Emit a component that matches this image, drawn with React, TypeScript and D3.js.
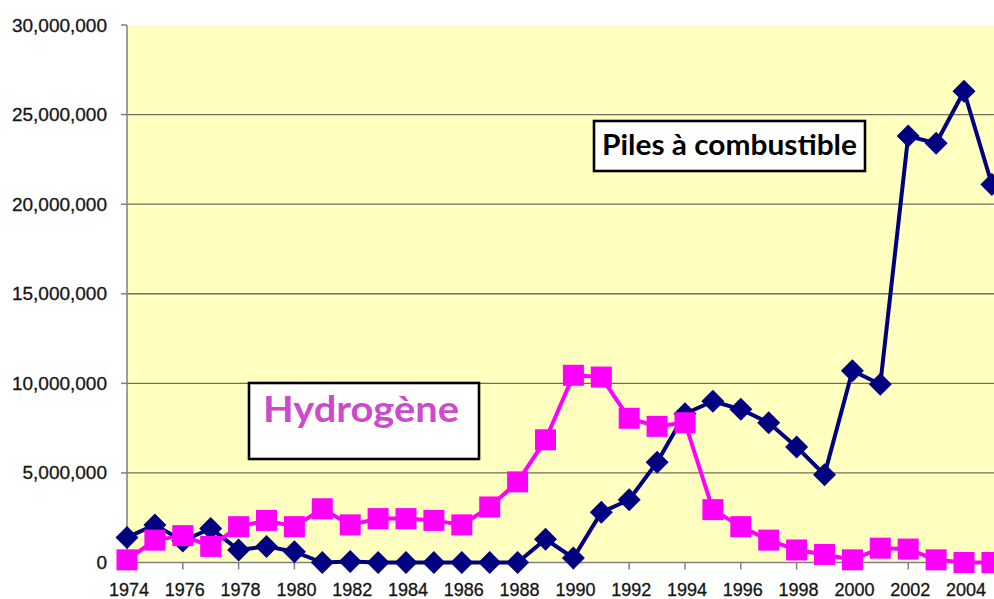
import React from "react";
import * as d3 from "d3";

const years = d3.range(1974, 2006);
const pilesValues = [
  1.4, 2.1, 1.2, 1.9, 0.7, 0.9, 0.6, 0, 0.05, 0, 0, 0, 0, 0, 0, 1.3,
  0.25, 2.8, 3.5, 5.6, 8.3, 9.0, 8.55, 7.8, 6.45, 4.9, 10.7, 9.95, 23.8, 23.4, 26.3, 21.1,
].map((v) => v * 1e6);
const hydrogeneValues = [
  0.15, 1.25, 1.5, 0.9, 2.0, 2.35, 2.0, 3.0, 2.1, 2.45, 2.45, 2.35, 2.1, 3.1, 4.5, 6.85,
  10.45, 10.35, 8.05, 7.6, 7.8, 2.95, 2.0, 1.25, 0.7, 0.45, 0.15, 0.8, 0.75, 0.15, 0, 0,
].map((v) => v * 1e6);
const yTicks = [0, 5e6, 10e6, 15e6, 20e6, 25e6, 30e6];
const xTickYears = d3.range(1974, 2006, 2);
const pilesLabel = "Piles à combustible";
const hydrogeneLabel = "Hydrogène";

export default function App() {
  const W = 994;
  const H = 599;
  const left = 127;
  const top = 25;
  const bottom = 562.5;
  const x = d3.scaleLinear().domain([1974, 2005]).range([left, left + 31 * 27.9]);
  const y = d3.scaleLinear().domain([0, 30e6]).range([bottom, top]);
  const fmt = d3.format(",");

  const line = d3
    .line<number>()
    .x((_, i) => x(years[i]))
    .y((d) => y(d));

  const diamond = (cx: number, cy: number, r: number) =>
    `M${cx},${cy - r}L${cx + r},${cy}L${cx},${cy + r}L${cx - r},${cy}Z`;

  return (
    <svg
      width={W}
      height={H}
      style={{ position: "absolute", left: 0, top: 0, background: "#fff" }}
    >
      <rect x={left} y={top} width={W - left} height={bottom - top} fill="#FFFFC0" />
      {yTicks
        .filter((t) => t > 0 && t < 30e6)
        .map((t) => (
          <line
            key={"g" + t}
            x1={left}
            x2={W}
            y1={y(t)}
            y2={y(t)}
            stroke="#6f6f60"
            strokeWidth={1.3}
          />
        ))}
      {/* axes */}
      <line x1={left} x2={left} y1={top} y2={bottom} stroke="#808080" strokeWidth={1.5} />
      <line x1={left} x2={W} y1={bottom} y2={bottom} stroke="#808080" strokeWidth={1.5} />
      {yTicks.map((t) => (
        <g key={"y" + t}>
          <line x1={left - 6} x2={left} y1={y(t)} y2={y(t)} stroke="#808080" strokeWidth={1.5} />
          <text
            x={107}
            y={y(t) + 6.5}
            textAnchor="end"
            fontFamily="Liberation Sans, Arial, sans-serif"
            fontSize={19}
            fill="#151515"
            stroke="#151515"
            strokeWidth={0.3}
          >
            {fmt(t)}
          </text>
        </g>
      ))}
      {xTickYears.map((yr) => (
        <g key={"x" + yr}>
          <line x1={x(yr)} x2={x(yr)} y1={bottom} y2={bottom + 7} stroke="#808080" strokeWidth={1.5} />
          <text
            x={x(yr) + 2}
            y={595.5}
            textAnchor="middle"
            fontFamily="Liberation Sans, Arial, sans-serif"
            fontSize={18}
            fill="#151515"
            stroke="#151515"
            strokeWidth={0.3}
          >
            {yr}
          </text>
        </g>
      ))}

      {/* Piles à combustible series */}
      <path d={line(pilesValues) || ""} fill="none" stroke="#000080" strokeWidth={4} strokeLinejoin="round" />
      {pilesValues.map((v, i) => (
        <path key={"d" + i} d={diamond(x(years[i]), y(v), 11.5)} fill="#000080" />
      ))}

      {/* Hydrogène series */}
      <path d={line(hydrogeneValues) || ""} fill="none" stroke="#FF00FF" strokeWidth={4} strokeLinejoin="round" />
      {hydrogeneValues.map((v, i) => (
        <rect
          key={"s" + i}
          x={x(years[i]) - 10.5}
          y={y(v) - 10.5}
          width={21}
          height={21}
          fill="#FF00FF"
        />
      ))}

      {/* labels */}
      <rect x={249} y={383} width={230} height={76} fill="#fff" stroke="#000" strokeWidth={2.6} />
      <text
        x={263}
        y={422}
        fontFamily="Lato, sans-serif"
        fontWeight={700}
        fontSize={36}
        fill="#CC4ACC"
        textLength={196}
        lengthAdjust="spacingAndGlyphs"
      >
        {hydrogeneLabel}
      </text>
      <rect x={594} y={121} width={271} height={50} fill="#fff" stroke="#000" strokeWidth={2.6} />
      <text
        x={602}
        y={155}
        fontFamily="Lato, sans-serif"
        fontWeight={700}
        fontSize={28}
        fill="#000"
        textLength={255}
        lengthAdjust="spacingAndGlyphs"
      >
        {pilesLabel}
      </text>
    </svg>
  );
}
